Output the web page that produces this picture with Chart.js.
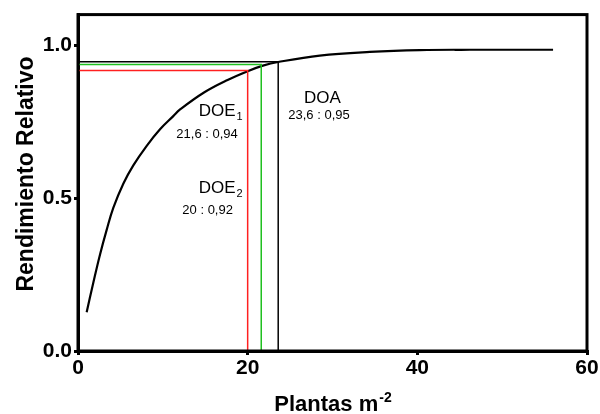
<!DOCTYPE html>
<html>
<head>
<meta charset="utf-8">
<script src="https://cdn.jsdelivr.net/npm/chart.js@4"></script>
<style>
html,body{margin:0;padding:0;background:#fff;}
#wrap{width:600px;height:414px;position:relative;}
</style>
</head>
<body>
<div id="wrap"><canvas id="c" width="600" height="414"></canvas></div>
<script>
// ---- data ----
const curveX = [1.02, 1.81, 2.59, 3.38, 4.16, 5.34, 6.52, 8.1, 9.67, 11.23, 12.0, 14.9, 17.7, 20, 21.8, 23.6, 28.5, 34.4, 40.3, 46.2, 56];
const curveY = [0.127, 0.224, 0.315, 0.396, 0.468, 0.547, 0.607, 0.671, 0.725, 0.768, 0.789, 0.846, 0.887, 0.915, 0.933, 0.945, 0.966, 0.978, 0.984, 0.985, 0.985];

const refNames = ['DOE2', 'DOE1', 'DOA'];
const refX = [20, 21.6, 23.6];
const refY = [0.917, 0.937, 0.946];
const refColors = ['#ff2020', '#20c020', '#000000'];

const xTicks = [0, 20, 40, 60];
const yTicks = [0, 0.5, 1.0];

const labelMain = ['DOE', 'DOE', 'DOA'];
const labelSub = ['1', '2', ''];
const labelVal = ['21,6 : 0,94', '20 : 0,92', '23,6 : 0,95'];

const xTitle = 'Plantas m';
const xTitleSup = '-2';
const yTitle = 'Rendimiento Relativo';

// ---- build datasets ----
const datasets = [];
refX.forEach((rx, i) => {
  datasets.push({
    label: refNames[i],
    data: [{x: 0, y: refY[i]}, {x: rx, y: refY[i]}, {x: rx, y: 0}],
    borderColor: refColors[i],
    borderWidth: 1.5,
    pointRadius: 0,
    tension: 0,
    fill: false
  });
});
datasets.push({
  label: 'curve',
  data: curveX.map((x, i) => ({x: x, y: curveY[i]})),
  borderColor: '#000',
  borderWidth: 2.2,
  pointRadius: 0,
  tension: 0.4,
  fill: false
});

const FONT = '"Liberation Sans", Arial, sans-serif';

const decor = {
  id: 'decor',
  afterDraw(chart) {
    const ctx = chart.ctx;
    const a = chart.chartArea;
    const xs = chart.scales.x, ys = chart.scales.y;
    ctx.save();
    // frame
    ctx.strokeStyle = '#000';
    ctx.lineWidth = 3;
    ctx.strokeRect(a.left, a.top, a.right - a.left, a.bottom - a.top);

    // annotations (anchors in data units)
    const anchors = [
      {m: [14.23, 0.770], v: [11.59, 0.698]},
      {m: [14.23, 0.518], v: [12.30, 0.447]},
      {m: [26.64, 0.811], v: [24.79, 0.759]}
    ];
    ctx.fillStyle = '#000';
    ctx.textBaseline = 'alphabetic';
    ctx.textAlign = 'left';
    anchors.forEach((an, i) => {
      const mx = xs.getPixelForValue(an.m[0]), my = ys.getPixelForValue(an.m[1]);
      ctx.font = '17px ' + FONT;
      ctx.fillText(labelMain[i], mx, my);
      const w = ctx.measureText(labelMain[i]).width;
      if (labelSub[i]) {
        ctx.font = '11px ' + FONT;
        ctx.fillText(labelSub[i], mx + w + 1, my + 4);
      }
      const vx = xs.getPixelForValue(an.v[0]), vy = ys.getPixelForValue(an.v[1]);
      ctx.font = '13px ' + FONT;
      ctx.fillText(labelVal[i], vx, vy);
    });

    // x title with superscript
    ctx.font = 'bold 22px ' + FONT;
    const w1 = ctx.measureText(xTitle).width;
    ctx.font = 'bold 14px ' + FONT;
    const w2 = ctx.measureText(xTitleSup).width;
    const cx = (a.left + a.right) / 2;
    const startX = cx - (w1 + w2) / 2;
    ctx.font = 'bold 22px ' + FONT;
    ctx.fillText(xTitle, startX, 411);
    ctx.font = 'bold 14px ' + FONT;
    ctx.fillText(xTitleSup, startX + w1 + 1, 402);

    // y title rotated
    ctx.translate(33, 174);
    ctx.rotate(-Math.PI / 2);
    ctx.textAlign = 'center';
    ctx.font = 'bold 23px ' + FONT;
    ctx.fillText(yTitle, 0, 0);
    ctx.restore();
  }
};

new Chart(document.getElementById('c'), {
  type: 'line',
  data: {datasets: datasets},
  options: {
    responsive: false,
    animation: false,
    devicePixelRatio: 1,
    layout: {padding: {left: 0, top: 11, right: 13, bottom: 0}},
    plugins: {legend: {display: false}, tooltip: {enabled: false}},
    scales: {
      x: {
        type: 'linear', min: 0, max: 60,
        afterFit(s) { s.height = 63; },
        afterBuildTicks(s) { s.ticks = xTicks.map(v => ({value: v})); },
        grid: {display: true, drawOnChartArea: false, drawTicks: true, tickLength: 4, color: '#000', lineWidth: 3},
        border: {display: true, color: '#000', width: 3},
        ticks: {color: '#000', font: {family: FONT, size: 21, weight: 'bold'}, padding: 1, maxRotation: 0,
                callback: v => String(v)}
      },
      y: {
        type: 'linear', min: 0, max: 1.1,
        afterFit(s) { s.width = 78; },
        afterBuildTicks(s) { s.ticks = yTicks.map(v => ({value: v})); },
        grid: {display: true, drawOnChartArea: false, drawTicks: true, tickLength: 4, color: '#000', lineWidth: 3},
        border: {display: true, color: '#000', width: 3},
        ticks: {color: '#000', font: {family: FONT, size: 21, weight: 'bold'}, padding: 2,
                callback: v => Number(v).toFixed(1)}
      }
    }
  },
  plugins: [decor]
});
</script>
</body>
</html>
